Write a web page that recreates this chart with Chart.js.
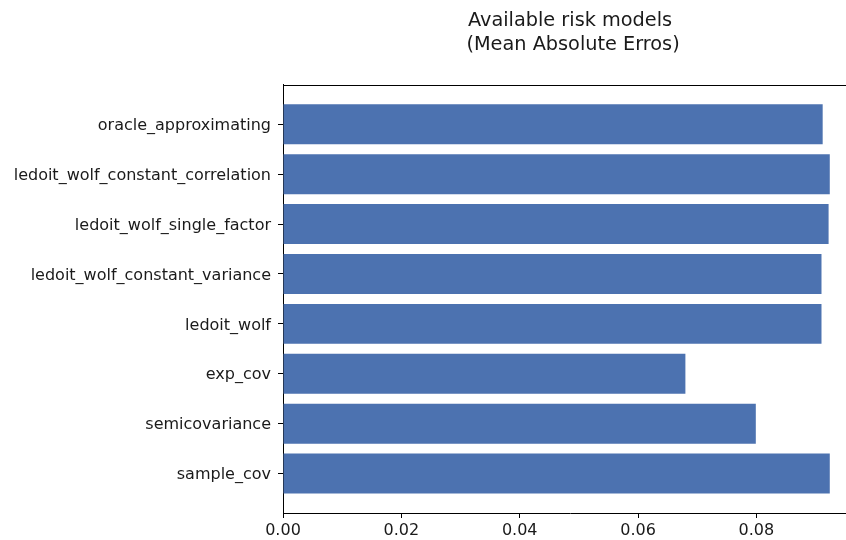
<!DOCTYPE html>
<html>
<head>
<meta charset="utf-8">
<script src="https://cdn.jsdelivr.net/npm/chart.js@4.4.1/dist/chart.umd.min.js"></script>
<style>
  html, body { margin: 0; padding: 0; overflow: hidden; background: #fff; }
  #wrap { width: 870px; height: 540px; }
</style>
</head>
<body>
<div id="wrap"><canvas id="riskChart" width="870" height="540"></canvas></div>
<script>
// models, top to bottom as drawn
const models = [
  'oracle_approximating',
  'ledoit_wolf_constant_correlation',
  'ledoit_wolf_single_factor',
  'ledoit_wolf_constant_variance',
  'ledoit_wolf',
  'exp_cov',
  'semicovariance',
  'sample_cov'
];
const maeValues = [0.0912, 0.0924, 0.0922, 0.0910, 0.0910, 0.0680, 0.0799, 0.0924];
const xTicks = [0.00, 0.02, 0.04, 0.06, 0.08];

const font = 'DejaVu Sans';

// matplotlib-like top spine
const topSpine = {
  id: 'topSpine',
  afterDraw(chart) {
    const { ctx, chartArea } = chart;
    ctx.save();
    ctx.strokeStyle = '#000';
    ctx.lineWidth = 1;
    ctx.beginPath();
    ctx.moveTo(chartArea.left, Math.round(chartArea.top) + 0.5);
    ctx.lineTo(chartArea.right, Math.round(chartArea.top) + 0.5);
    ctx.stroke();
    ctx.restore();
  }
};

const ctx = document.getElementById('riskChart');
new Chart(ctx, {
  type: 'bar',
  data: {
    datasets: [{
      data: maeValues.map((v, i) => ({ x: v, y: i })),
      backgroundColor: '#4c72b0',
      borderWidth: 0,
      categoryPercentage: 1,
      barPercentage: 0.8
    }]
  },
  options: {
    indexAxis: 'y',
    responsive: false,
    animation: false,
    layout: { padding: { left: 0, right: 13, top: 0, bottom: 0 } },
    plugins: {
      legend: { display: false },
      tooltip: { enabled: false },
      title: {
        display: true,
        fullSize: false,
        text: ['Available risk models', ' (Mean Absolute Erros)'],
        color: '#1a1a1a',
        font: { family: font, size: 19.3, weight: 'normal', lineHeight: 1.24 },
        padding: { top: 9, bottom: 28 }
      }
    },
    scales: {
      x: {
        type: 'linear',
        min: 0,
        max: 0.097,
        afterBuildTicks: (scale) => { scale.ticks = xTicks.map(v => ({ value: v })); },
        afterFit: (scale) => { scale.height = 27; },
        grid: { drawOnChartArea: false, drawTicks: true, tickLength: 5, color: '#000' },
        border: { display: true, color: '#000', width: 1 },
        ticks: {
          color: '#1a1a1a',
          padding: 3,
          font: { family: font, size: 16 },
          callback: (v) => v.toFixed(2)
        }
      },
      y: {
        type: 'linear',
        reverse: true,
        offset: false,
        min: -0.79,
        max: 7.79,
        afterBuildTicks: (scale) => { scale.ticks = models.map((m, i) => ({ value: i })); },
        afterFit: (scale) => { scale.width = 283; },
        grid: { offset: false, drawOnChartArea: false, drawTicks: true, tickLength: 5, color: '#000' },
        border: { display: true, color: '#000', width: 1 },
        ticks: {
          color: '#1a1a1a',
          padding: 7,
          labelOffset: 1.5,
          font: { family: font, size: 16 },
          callback: (v) => models[v]
        }
      }
    }
  },
  plugins: [topSpine]
});
</script>
</body>
</html>
